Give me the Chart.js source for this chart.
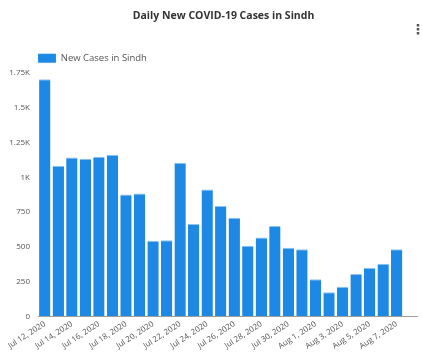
<!DOCTYPE html>
<html>
<head>
<meta charset="utf-8">
<script src="https://cdn.jsdelivr.net/npm/chart.js@4"></script>
<style>
  body { margin: 0; background: #fff; }
  #wrap { position: relative; width: 423px; height: 354px; }
  #menu { position: absolute; left: 411px; top: 21px; font: bold 14px "DejaVu Sans"; color: #555; }
</style>
</head>
<body>
<div id="wrap">
  <canvas id="casesChart" width="423" height="354"></canvas>
  <div id="menu">⋮</div>
</div>
<script>
const days = [
  "Jul 12, 2020", "Jul 13, 2020", "Jul 14, 2020", "Jul 15, 2020", "Jul 16, 2020",
  "Jul 17, 2020", "Jul 18, 2020", "Jul 19, 2020", "Jul 20, 2020", "Jul 21, 2020",
  "Jul 22, 2020", "Jul 23, 2020", "Jul 24, 2020", "Jul 25, 2020", "Jul 26, 2020",
  "Jul 27, 2020", "Jul 28, 2020", "Jul 29, 2020", "Jul 30, 2020", "Jul 31, 2020",
  "Aug 1, 2020", "Aug 2, 2020", "Aug 3, 2020", "Aug 4, 2020", "Aug 5, 2020",
  "Aug 6, 2020", "Aug 7, 2020", "Aug 8, 2020",
];
const newCases = [
  1705, 1083, 1143, 1133, 1148, 1162, 876, 883, 543, 548,
  1105, 664, 912, 793, 709, 507, 567, 650, 493, 483,
  267, 174, 212, 305, 350, 379, 483, null,
]; // Aug 8 has no figure yet
const yTicks = [0, 250, 500, 750, 1000, 1250, 1500, 1750];

const fmtK = (v) => (v >= 1000 ? v / 1000 + "K" : String(v));

// nudge legend + title so they sit where the original dashboard put them
const boxShift = {
  id: "boxShift",
  afterLayout(chart) {
    chart.legend.left += 28;
    chart.titleBlock.left += 15;
    chart.titleBlock.right += 15;
  },
};

new Chart(document.getElementById("casesChart"), {
  type: "bar",
  plugins: [boxShift],
  data: {
    labels: days,
    datasets: [
      {
        label: "New Cases in Sindh",
        data: newCases,
        backgroundColor: "#1e88e5",
        borderColor: "#8ec3f2",
        borderWidth: { top: 1, left: 0, right: 0, bottom: 0 },
        barPercentage: 0.84,
        categoryPercentage: 1,
      },
    ],
  },
  options: {
    responsive: false,
    animation: false,
    layout: { padding: { left: 0, right: 6, top: 0, bottom: 0 } },
    plugins: {
      title: {
        display: true,
        text: "Daily New COVID-19 Cases in Sindh",
        color: "#333",
        font: { family: "Open Sans", size: 10.5, weight: "bold" },
        padding: { top: 10, bottom: 21 },
      },
      legend: {
        align: "start",
        labels: {
          color: "#555",
          boxWidth: 18,
          boxHeight: 9,
          padding: 10,
          font: { family: "Open Sans", size: 9.5 },
        },
      },
      tooltip: { enabled: false },
    },
    scales: {
      x: {
        grid: { display: false, drawTicks: false },
        border: { display: true, color: "#9e9e9e" },
        ticks: {
          autoSkip: false,
          minRotation: 33,
          maxRotation: 33,
          padding: 3,
          color: "#555",
          font: { family: "Open Sans", size: 8 },
          callback: function (v, i) {
            return i % 2 === 0 ? days[i] : "";
          },
        },
      },
      y: {
        min: 0,
        max: 1750,
        grid: { display: false, drawTicks: false },
        border: { display: false },
        afterFit: (s) => { s.width = 38; },
        afterBuildTicks: (s) => { s.ticks = yTicks.map((v) => ({ value: v })); },
        ticks: {
          padding: 8,
          color: "#555",
          font: { family: "Open Sans", size: 8 },
          callback: (v) => fmtK(v),
        },
      },
    },
  },
});
</script>
</body>
</html>
